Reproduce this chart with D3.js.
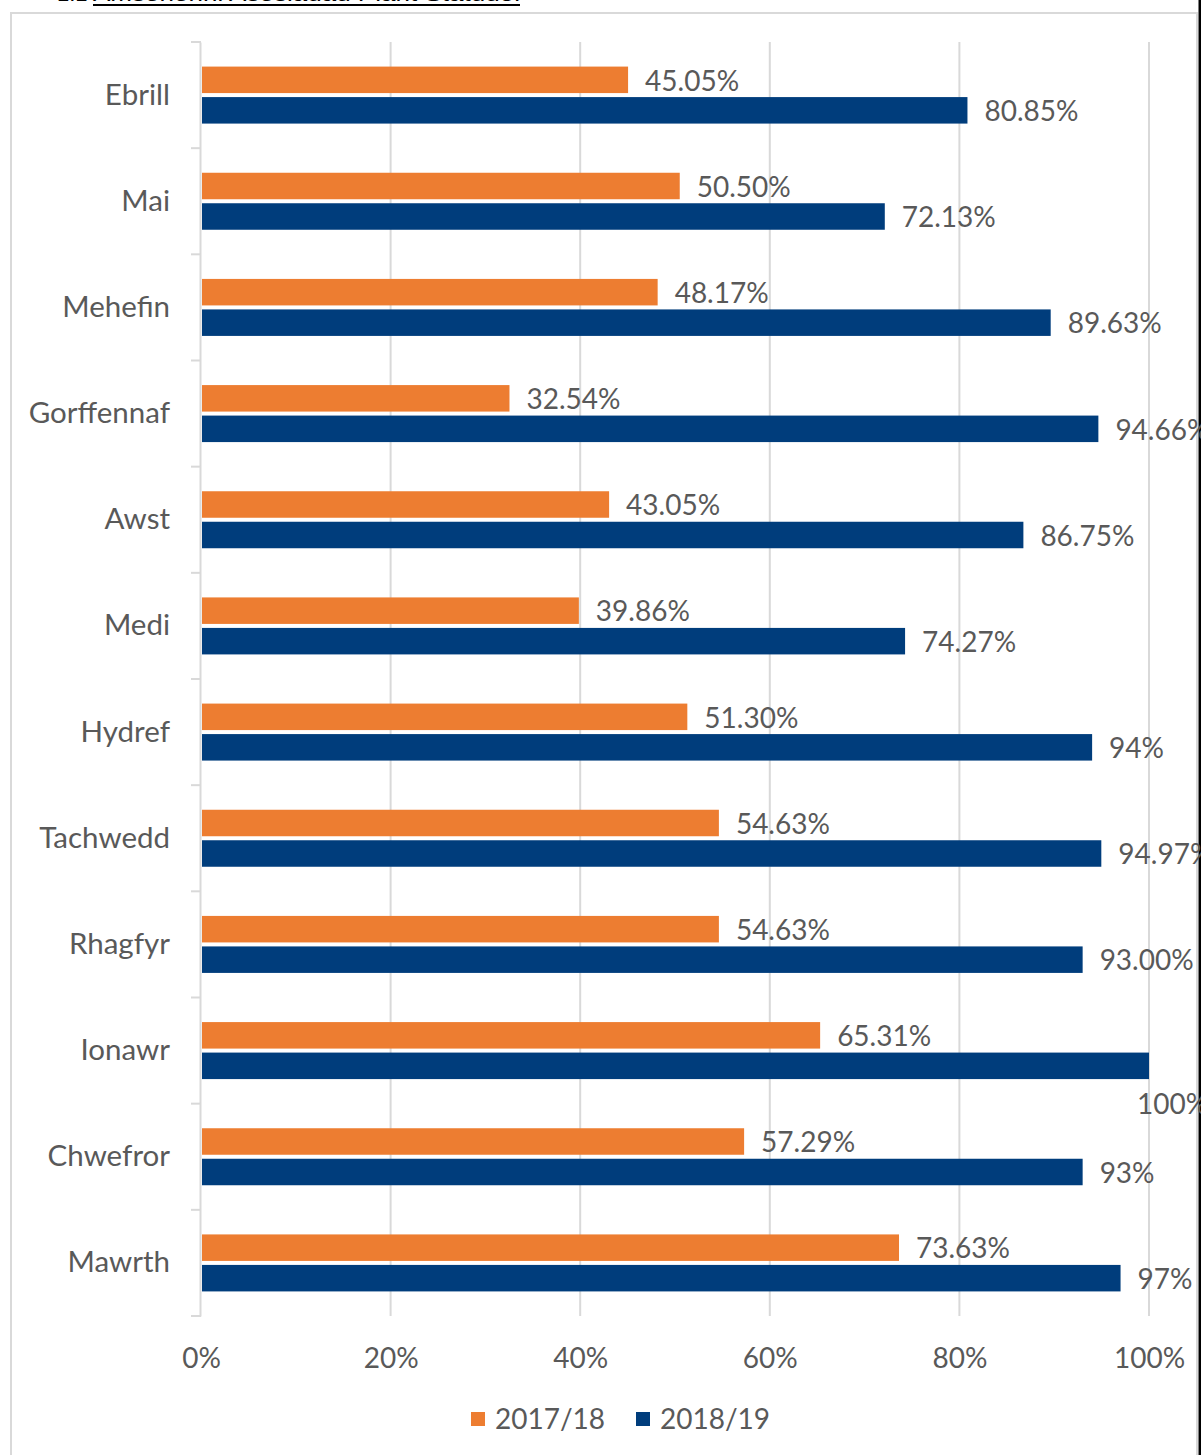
<!DOCTYPE html>
<html>
<head>
<meta charset="utf-8">
<script src="https://cdn.jsdelivr.net/npm/d3@7"></script>
<style>
  body { margin: 0; background: #fff; }
  svg text { font-family: Lato, "Open Sans", sans-serif; fill: #595959; }
</style>
</head>
<body>
<script>
//chart data
var months = ['Ebrill', 'Mai', 'Mehefin', 'Gorffennaf', 'Awst', 'Medi', 'Hydref', 'Tachwedd', 'Rhagfyr', 'Ionawr', 'Chwefror', 'Mawrth'];
var series = ['2017/18', '2018/19'];
var values1718 = [45.05, 50.50, 48.17, 32.54, 43.05, 39.86, 51.30, 54.63, 54.63, 65.31, 57.29, 73.63];
var values1819 = [80.85, 72.13, 89.63, 94.66, 86.75, 74.27, 94, 94.97, 93.00, 100, 93, 97];
var labels1718 = ['45.05%', '50.50%', '48.17%', '32.54%', '43.05%', '39.86%', '51.30%', '54.63%', '54.63%', '65.31%', '57.29%', '73.63%'];
var labels1819 = ['80.85%', '72.13%', '89.63%', '94.66%', '86.75%', '74.27%', '94%', '94.97%', '93.00%', '100%', '93%', '97%'];
var xTicks = [0, 20, 40, 60, 80, 100];
var title = 'Amserlenni Asesiadau Plant Statudol';

window.onload = drawChart();

function drawChart(){
    var width = 1201,
        height = 1455;
    var colors = ['#ED7D31', '#003D7C'];

    var svg = d3.select('body')
        .append('svg')
        .attr('width', width)
        .attr('height', height);

    //cut-off heading above the chart frame
    svg.append('text')
        .attr('x', 57).attr('y', 1)
        .style('font-family', '"Liberation Sans", Arial, sans-serif')
        .style('font-size', '22px').style('fill', '#000')
        .text('1.1');
    svg.append('text')
        .attr('x', 93).attr('y', 1)
        .attr('textLength', 427).attr('lengthAdjust', 'spacingAndGlyphs')
        .style('font-family', '"Liberation Sans", Arial, sans-serif')
        .style('font-size', '22px').style('fill', '#000')
        .text(title);
    svg.append('line')
        .attr('x1', 93).attr('x2', 520).attr('y1', 5).attr('y2', 5)
        .attr('stroke', '#000').attr('stroke-width', 2);

    //chart frame
    svg.append('rect')
        .attr('x', 11).attr('y', 13)
        .attr('width', 1186).attr('height', 1460)
        .attr('fill', 'none').attr('stroke', '#D9D9D9').attr('stroke-width', 2);
    svg.append('rect')
        .attr('x', 1198.5).attr('y', 0).attr('width', 3).attr('height', height)
        .attr('fill', '#000');

    var x = d3.scaleLinear().domain([0, 100]).range([201, 1149]);
    var y = d3.scaleBand().domain(months).range([42, 1316]);
    var barH = 26.5, gap = 4;

    //gridlines
    svg.append('g').selectAll('line')
        .data(xTicks.slice(1))
        .enter().append('line')
        .attr('x1', function(d){ return x(d); })
        .attr('x2', function(d){ return x(d); })
        .attr('y1', 42).attr('y2', 1316)
        .attr('stroke', '#D9D9D9').attr('stroke-width', 2);

    //category axis
    var yAxis = svg.append('g')
        .attr('transform', 'translate(' + 200 + ',0)')
        .call(d3.axisLeft(y).tickSize(0).tickPadding(30));
    yAxis.select('.domain').attr('stroke', '#D9D9D9').attr('stroke-width', 2);
    yAxis.selectAll('text').style('font-size', '29.5px').attr('fill', '#595959');
    svg.append('g').selectAll('line')
        .data(d3.range(months.length + 1))
        .enter().append('line')
        .attr('x1', 191).attr('x2', 201)
        .attr('y1', function(i){ return 42 + i * y.step(); })
        .attr('y2', function(i){ return 42 + i * y.step(); })
        .attr('stroke', '#D9D9D9').attr('stroke-width', 2);

    //value axis labels
    var xAxis = svg.append('g')
        .attr('transform', 'translate(0,' + 1316 + ')')
        .call(d3.axisBottom(x).tickValues(xTicks).tickSize(0).tickPadding(32)
            .tickFormat(function(d){ return d + '%'; }));
    xAxis.select('.domain').remove();
    xAxis.selectAll('text').style('font-size', '28px').attr('fill', '#595959');

    //bars
    var top0 = (y.bandwidth() - 2 * barH - gap) / 2;
    var sets = [values1718, values1819];
    var labelSets = [labels1718, labels1819];
    sets.forEach(function(vals, s){
        var g = svg.append('g');
        g.selectAll('rect')
            .data(vals)
            .enter().append('rect')
            .attr('x', x(0) + 1)
            .attr('y', function(d, i){ return y(months[i]) + top0 + s * (barH + gap); })
            .attr('width', function(d){ return x(d) - x(0) - 1; })
            .attr('height', barH)
            .attr('fill', colors[s]);
        g.selectAll('text')
            .data(vals)
            .enter().append('text')
            .attr('x', function(d){ return d >= 100 ? x(d) - 12 : x(d) + 17; })
            .attr('y', function(d, i){
                var cy = y(months[i]) + top0 + s * (barH + gap) + barH / 2;
                return d >= 100 ? cy + 38 : cy + 1;
            })
            .attr('dy', '0.35em')
            .style('font-size', '28px')
            .text(function(d, i){ return labelSets[s][i]; });
    });

    //legend
    var legend = svg.append('g');
    var legX = [471, 636];
    series.forEach(function(name, s){
        legend.append('rect')
            .attr('x', legX[s]).attr('y', 1412)
            .attr('width', 14).attr('height', 14)
            .attr('fill', colors[s]);
        legend.append('text')
            .attr('x', legX[s] + 24).attr('y', 1429)
            .style('font-size', '28px')
            .text(name);
    });
}
</script>
</body>
</html>
